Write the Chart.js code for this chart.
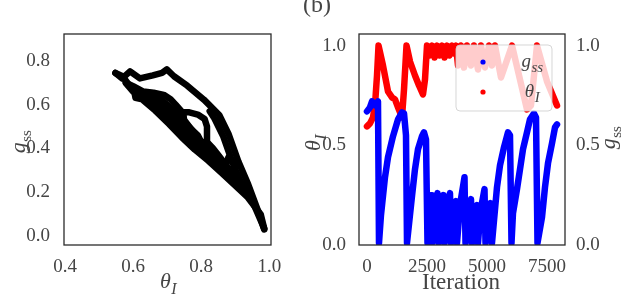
<!DOCTYPE html>
<html>
<head>
<meta charset="utf-8">
<script src="https://cdn.jsdelivr.net/npm/chart.js@4.4.0/dist/chart.umd.min.js"></script>
<style>
html,body{margin:0;padding:0;background:#fff;}
#wrap{position:relative;width:628px;height:302px;overflow:hidden;}
#left{position:absolute;left:0;top:0;}
#right{position:absolute;left:300px;top:0;}
</style>
</head>
<body>
<div id="wrap">
  <div id="left"><canvas id="c1" width="300" height="302"></canvas></div>
  <div id="right"><canvas id="c2" width="328" height="302"></canvas></div>
</div>
<script>
// ---- donnees ----
// (a) g_ss en fonction de theta_I : traces [theta, gss]
const arcOuter = [[0.985,0.03],[0.967,0.115],[0.938,0.236],[0.909,0.341],[0.881,0.464],[0.853,0.553],[0.808,0.623],[0.759,0.687],[0.72,0.73],[0.699,0.761],[0.685,0.745],[0.658,0.734],[0.62,0.72],[0.591,0.752],[0.568,0.72],[0.548,0.745]];
const arcInner = [[0.922,0.226],[0.893,0.331],[0.865,0.454],[0.839,0.537],[0.825,0.57]];
const edgeLower = [[0.548,0.745],[0.569,0.73],[0.604,0.656],[0.607,0.631],[0.627,0.624],[0.665,0.573],[0.706,0.511],[0.743,0.451],[0.781,0.395],[0.821,0.344],[0.859,0.29],[0.897,0.235],[0.937,0.176],[0.975,0.098],[0.985,0.035]];
const fillA = [[0.985,0.035],[0.95,0.16],[0.9,0.255],[0.85,0.33],[0.8,0.40],[0.75,0.47],[0.7,0.54],[0.65,0.61],[0.6,0.66],[0.578,0.70]];
const fillB = [[0.95,0.17],[0.9,0.275],[0.85,0.355],[0.8,0.425],[0.75,0.50],[0.7,0.57],[0.65,0.635],[0.615,0.67]];
const fillC = [[0.78,0.47],[0.75,0.53],[0.7,0.60],[0.67,0.64]];
const floorRing = [[0.905,0.285],[0.88,0.31],[0.85,0.37],[0.835,0.40],[0.817,0.43],[0.817,0.50],[0.81,0.535],[0.79,0.555],[0.765,0.565],[0.745,0.565],[0.725,0.60],[0.71,0.625],[0.69,0.645],[0.66,0.655],[0.63,0.66],[0.60,0.685],[0.58,0.70]];
const ringLoop = [[0.817,0.43],[0.80,0.43],[0.79,0.46],[0.77,0.49],[0.75,0.52],[0.748,0.555]];
const bumps = [[0.875,0.335],[0.88,0.36],[0.89,0.345],[0.9,0.32]];
const leftPaths = [arcOuter, arcInner, edgeLower, fillA, fillB, fillC, floorRing, ringLoop, bumps];

// (b) series en fonction de l'iteration : [iteration, valeur]
const thetaSeries = [[0,0.595],[125,0.61],[250,0.64],[333,0.70],[417,0.85],[480,1.0],[667,0.90],[875,0.77],[1042,0.74],[1167,0.73],[1292,0.69],[1458,0.64],[1542,0.78],[1646,1.0],[1792,0.92],[2000,0.85],[2167,0.80],[2333,0.755],[2417,0.83],[2500,1.0],
  [2604,0.95],[2708,1.0],[2813,0.94],[2917,1.0],[3021,0.95],[3125,1.0],[3229,0.94],[3333,1.0],[3438,0.95],[3542,1.0],[3625,0.96],[3708,1.0],[3792,0.90],[3917,1.0],[4042,0.89],[4167,1.0],[4333,0.90],[4458,1.0],[4625,0.88],[4750,1.0],[4917,0.89],[5083,1.0],[5208,0.90],[5333,1.0],[5583,0.84],[6042,1.0],[6667,0.68],[6833,0.70],[7083,1.0],[7500,0.82],[7917,0.70]];
const gssSeries = [[0,0.67],[125,0.69],[208,0.72],[333,0.70],[458,0.72],[500,0.01],[583,0.15],[750,0.34],[875,0.44],[1083,0.545],[1292,0.63],[1458,0.665],[1542,0.66],[1625,0.55],[1667,0.01],[1875,0.245],[2000,0.38],[2125,0.48],[2292,0.545],[2375,0.565],[2458,0.53],[2521,0.01],
  [2583,0.15],[2667,0.25],[2708,0.01],[2792,0.16],[2938,0.26],[2979,0.01],[3063,0.15],[3188,0.25],[3229,0.01],[3313,0.16],[3458,0.26],[3500,0.01],[3583,0.14],[3708,0.22],[3750,0.01],[3875,0.20],[4063,0.34],[4104,0.01],[4188,0.14],[4333,0.23],[4375,0.01],[4458,0.13],[4583,0.20],[4625,0.01],[4729,0.17],[4896,0.28],[4938,0.01],[5021,0.13],[5146,0.21],[5208,0.01],
  [5417,0.29],[5542,0.40],[5708,0.49],[5875,0.565],[5958,0.55],[6021,0.01],[6083,0.16],[6250,0.28],[6375,0.38],[6500,0.48],[6667,0.565],[6792,0.63],[6958,0.66],[7042,0.64],[7104,0.01],[7292,0.14],[7417,0.29],[7542,0.41],[7708,0.51],[7833,0.59],[7917,0.605]];

// graduations
const thetaTicks = [0.4, 0.6, 0.8, 1.0];
const gssTicks = [0.0, 0.2, 0.4, 0.6, 0.8];
const iterTicks = [0, 2500, 5000, 7500];
const unitTicks = [0.0, 0.5, 1.0];
const legendItems = [{base:'g', sub:'ss'}, {base:'θ', sub:'I'}];

const TXT = '#454545';
const SERIF = '"Liberation Serif", "DejaVu Serif", serif';
const tickFont = {family: SERIF, size: 19};

// lettre italique + indice, centree en x, ligne de base en y
function drawMath(ctx, x, y, base, sub, size, angle, subItalic, subScale){
  ctx.save();
  ctx.translate(x, y);
  ctx.rotate(angle || 0);
  ctx.fillStyle = TXT;
  ctx.textBaseline = 'alphabetic';
  ctx.textAlign = 'left';
  const fb = 'italic ' + size + 'px ' + SERIF;
  const fs = (subItalic ? 'italic ' : '') + Math.round(size * (subScale || 0.7)) + 'px ' + SERIF;
  ctx.font = fb; const wb = ctx.measureText(base).width;
  ctx.font = fs; const ws = ctx.measureText(sub).width;
  const x0 = -(wb + ws) / 2;
  ctx.font = fb; ctx.fillText(base, x0, 0);
  ctx.font = fs; ctx.fillText(sub, x0 + wb + 0.5, size * 0.25);
  ctx.restore();
}

function fixedTicks(list){
  return s => { s.ticks = list.map(v => ({value: v})); };
}

const framePlugin = {
  id: 'frame',
  afterDatasetsDraw(chart){
    const a = chart.chartArea, ctx = chart.ctx;
    ctx.save();
    ctx.strokeStyle = '#2b2b2b';
    ctx.lineWidth = 1.3;
    ctx.strokeRect(a.left, a.top, a.right - a.left, a.bottom - a.top);
    ctx.restore();
  }
};

function lineSet(points, color, width){
  return {
    data: points.map(p => ({x: p[0], y: p[1]})),
    showLine: true, borderColor: color, backgroundColor: color,
    borderWidth: width, pointRadius: 0, borderCapStyle: 'round', borderJoinStyle: 'round', tension: 0
  };
}

// ---- (a) ----
new Chart(document.getElementById('c1'), {
  type: 'scatter',
  data: {datasets: leftPaths.map(c => lineSet(c, '#000', 6.5))},
  options: {
    responsive: false, animation: false,
    layout: {padding: {top: 34, right: 29, left: 0, bottom: 0}},
    plugins: {legend: {display: false}, tooltip: {enabled: false}},
    scales: {
      x: {type: 'linear', min: 0.397, max: 1.005, grid: {display: false}, border: {display: false},
        afterBuildTicks: fixedTicks(thetaTicks), afterFit: s => { s.height = 57; },
        ticks: {font: tickFont, color: TXT, padding: 3, maxRotation: 0, autoSkip: false, callback: v => v.toFixed(1)}},
      y: {type: 'linear', min: -0.041, max: 0.923, grid: {display: false}, border: {display: false},
        afterBuildTicks: fixedTicks(gssTicks), afterFit: s => { s.width = 64; },
        ticks: {font: tickFont, color: TXT, padding: 6, autoSkip: false, callback: v => v.toFixed(1)}}
    }
  },
  plugins: [framePlugin, {
    id: 'labelsA',
    afterDraw(chart){
      const ctx = chart.ctx;
      drawMath(ctx, 168, 288, 'θ', 'I', 22, 0, true, 0.72);
      drawMath(ctx, 25, 142, 'g', 'ss', 22, -Math.PI / 2, false, 0.68);
    }
  }]
});

// ---- (b) ----
const legendPlugin = {
  id: 'boxLegend',
  afterDatasetsDraw(chart){
    const ctx = chart.ctx;
    const x = 156, y = 45, w = 96, h = 66, r = 4;
    ctx.save();
    ctx.beginPath();
    ctx.roundRect(x, y, w, h, r);
    ctx.fillStyle = 'rgba(255,255,255,0.8)';
    ctx.fill();
    ctx.strokeStyle = 'rgba(204,204,204,0.8)';
    ctx.lineWidth = 1;
    ctx.stroke();
    legendItems.forEach((it, i) => {
      const cy = 62 + i * 30;
      ctx.beginPath();
      ctx.arc(183, cy, 2.6, 0, Math.PI * 2);
      ctx.fillStyle = chart.data.datasets[i].borderColor;
      ctx.fill();
      drawMath(ctx, 232, cy + 5, it.base, it.sub, 19, 0, true, 0.8);
    });
    ctx.restore();
  }
};

new Chart(document.getElementById('c2'), {
  type: 'scatter',
  data: {datasets: [
    Object.assign(lineSet(gssSeries, '#0000ff', 6.5), {yAxisID: 'y2'}),
    Object.assign(lineSet(thetaSeries, '#ff0000', 6.5), {yAxisID: 'y'})
  ]},
  options: {
    responsive: false, animation: false,
    layout: {padding: {top: 34, right: 0, left: 0, bottom: 0}},
    plugins: {legend: {display: false}, tooltip: {enabled: false}},
    scales: {
      x: {type: 'linear', min: -333, max: 8250, grid: {display: false}, border: {display: false},
        afterBuildTicks: fixedTicks(iterTicks), afterFit: s => { s.height = 57; },
        ticks: {font: tickFont, color: TXT, padding: 3, maxRotation: 0, autoSkip: false, callback: v => String(v)}},
      y: {type: 'linear', position: 'left', min: 0, max: 1.058, grid: {display: false}, border: {display: false},
        afterBuildTicks: fixedTicks(unitTicks), afterFit: s => { s.width = 59; },
        ticks: {font: tickFont, color: TXT, padding: 5, autoSkip: false, callback: v => v.toFixed(1)}},
      y2: {type: 'linear', position: 'right', min: 0, max: 1.058, grid: {display: false}, border: {display: false},
        afterBuildTicks: fixedTicks(unitTicks), afterFit: s => { s.width = 63; },
        ticks: {font: tickFont, color: TXT, padding: 3, autoSkip: false, callback: v => v.toFixed(1)}}
    }
  },
  plugins: [framePlugin, legendPlugin, {
    id: 'labelsB',
    afterDraw(chart){
      const ctx = chart.ctx;
      ctx.save();
      ctx.fillStyle = TXT;
      ctx.font = '23px ' + SERIF;
      ctx.textAlign = 'center';
      ctx.textBaseline = 'alphabetic';
      ctx.fillText('Iteration', 161, 289);
      ctx.font = '24px ' + SERIF;
      ctx.textAlign = 'left';
      ctx.fillText('(b)', 3, 12);
      ctx.restore();
      drawMath(ctx, 20, 143, 'θ', 'I', 22, -Math.PI / 2, true, 0.72);
      drawMath(ctx, 315, 138, 'g', 'ss', 22, -Math.PI / 2, false, 0.68);
    }
  }]
});
</script>
</body>
</html>
